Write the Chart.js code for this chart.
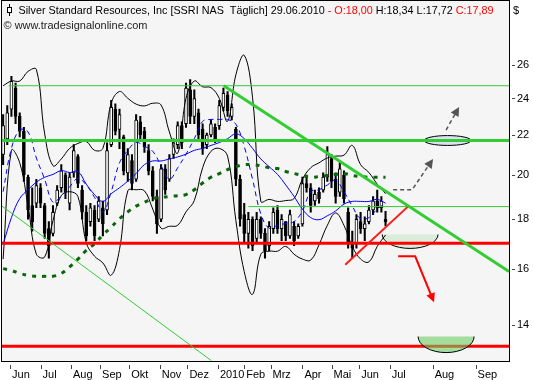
<!DOCTYPE html>
<html><head><meta charset="utf-8">
<script src="https://cdn.jsdelivr.net/npm/chart.js@4"></script>
<style>html,body{margin:0;padding:0;background:#fff;}canvas{display:block;}</style>
</head><body>
<canvas id="c" width="533" height="380"></canvas>
<script>
// ---------- DATA (trading-day index; future part in calendar days) ----------
const candleDay = [0,3,6,9,12,15,18,21,24,27,30,33,36,39,42,45,48,51,54,57,60,63,66,69,72,75,78,81,84,87,90,93,96,99,102,105,108,111,114,117,120,123,126,129,132,135,138,141,144,147,150,153,156,159,162,165,168,171,174,177,180,183,186,189,192,195,198,201,204,207,210,213,216,219,222,225,228,231,234,237,240,243,246,249,252,255,258,261,264,267,270,273,276];
const openP = [21.0,21.8,23.4,24.6,23.0,22.2,19.9,18.6,18.7,19.4,
18.6,17.6,17.4,18.7,19.4,20.0,18.7,20.1,20.9,19.3,
18.3,17.9,18.4,18.0,18.5,18.4,21.5,23.4,22.3,21.9,
20.1,20.7,19.8,22.7,22.2,21.2,20.2,19.0,18.0,20.3,
19.8,21.0,21.5,22.5,22.6,24.5,23.0,23.2,22.3,21.5,
22.0,22.4,22.5,23.5,24.2,23.0,22.3,19.8,18.2,17.4,
18.0,17.2,18.0,17.4,16.9,17.6,18.4,17.6,17.9,17.3,
17.7,17.3,17.8,19.6,19.4,18.8,19.2,19.3,19.9,20.8,
19.8,19.2,20.0,18.3,17.0,17.0,17.9,17.6,17.9,18.4,
18.8,18.5,18.00];
const highP = [23.1,23.6,25.3,24.9,23.2,22.4,20.0,19.4,19.8,19.6,
18.7,17.9,18.6,19.5,20.5,20.1,20.1,21.5,21.0,19.5,
18.6,18.7,18.6,19.0,18.8,21.6,23.9,23.7,23.4,22.0,
21.3,21.0,23.1,23.0,22.4,21.5,20.4,19.3,20.5,20.5,
21.0,21.8,22.7,22.7,24.9,25.1,24.5,23.4,22.6,22.1,
22.8,22.6,23.9,24.6,24.4,23.7,22.4,20.0,18.7,18.3,
18.1,18.3,18.1,17.6,17.9,18.5,18.6,18.2,17.9,18.4,
17.9,17.8,19.9,20.0,19.6,19.3,19.4,20.1,21.4,21.0,
20.1,20.6,20.2,18.5,17.5,18.2,18.3,18.1,18.6,19.0,
19.3,19.0,18.34];
const lowP = [20.5,21.5,23.0,22.6,21.9,19.7,18.0,17.5,18.5,18.5,
17.2,16.4,17.3,18.6,19.2,18.9,18.4,19.9,19.4,18.0,
17.1,17.7,17.1,17.9,17.3,18.2,21.4,22.0,21.3,20.0,
19.7,19.3,19.7,21.8,21.1,20.0,18.8,17.4,17.9,19.1,
19.7,20.8,21.3,21.3,22.4,22.6,22.6,21.7,21.0,21.3,
21.9,21.6,22.3,23.3,23.0,22.8,19.5,17.7,17.0,16.8,
16.7,17.0,17.2,16.4,16.7,17.4,17.4,17.1,17.1,17.2,
16.9,17.2,17.7,19.2,18.3,18.6,18.7,19.2,19.7,19.4,
18.7,19.0,18.7,16.8,16.4,16.8,17.4,17.1,17.8,18.2,
18.3,18.3,17.72];
const closeP = [22.5,23.2,25.0,23.0,22.2,20.0,18.4,17.9,19.5,18.7,
17.4,16.9,18.3,19.3,20.2,19.2,19.9,21.2,19.6,18.3,
17.3,18.5,17.3,18.8,17.8,21.2,23.5,22.2,23.1,20.2,
21.0,19.6,22.8,22.0,21.4,20.2,19.0,17.8,20.3,19.3,
20.8,21.6,22.5,21.6,24.6,23.0,24.0,22.0,21.3,22.0,
22.6,21.8,23.6,24.3,23.3,23.5,19.8,18.0,17.4,18.0,
16.9,18.0,17.4,16.7,17.7,18.3,17.6,18.0,17.3,18.2,
17.1,17.7,19.6,19.4,18.6,19.1,18.9,19.9,21.0,19.7,
19.0,20.3,18.9,17.0,16.8,18.0,17.6,17.8,18.4,18.8,
18.5,18.8,17.89];

const lineDay = [0,6,12,18,24,30,36,42,48,54,60,66,72,78,84,90,96,102,108,114,120,126,132,138,144,150,156,162,168,174,180,186,192,198,204,210,216,222,228,234,240,246,252,258,264,270,276];
const bollUpper = [24.74,25.02,25.02,25.60,25.72,22.06,20.45,20.78,21.31,21.56,
21.66,21.21,21.31,23.73,24.40,24.01,23.68,23.58,23.73,23.63,
22.16,21.07,24.01,25.02,24.68,24.63,24.01,22.73,25.40,26.60,
24.07,18.78,18.87,18.78,18.82,18.91,19.80,20.35,20.59,20.83,
20.92,20.97,21.46,20.50,20.12,19.57,19.13];
const bollLower = [16.37,21.21,20.59,18.57,16.56,16.45,17.94,19.04,19.22,19.00,
17.02,16.48,16.22,15.75,16.75,19.26,19.31,19.26,18.44,17.62,
17.70,17.74,18.32,18.82,20.35,21.16,21.31,20.92,17.94,15.89,
15.05,16.56,16.68,16.68,16.87,16.56,16.37,16.33,16.94,17.74,
18.27,17.74,16.87,16.37,16.26,16.87,17.34];
const maBlue = [16.94,18.07,18.91,19.31,19.66,19.89,20.03,20.21,20.12,20.17,
19.57,19.09,18.78,19.13,19.40,19.71,20.07,20.50,20.68,20.68,
20.78,20.88,21.02,21.21,21.31,21.46,21.61,21.81,22.06,21.81,
21.31,20.78,20.40,20.03,19.53,19.00,18.44,18.07,17.98,18.15,
18.36,18.66,18.78,18.78,18.78,18.87,18.70];
const maBlueDash = [19.22,21.31,22.26,22.16,20.83,19.80,18.74,19.04,19.44,19.84,
19.53,18.96,18.32,19.22,20.59,21.21,21.61,21.41,21.16,20.45,
19.80,20.35,21.02,21.81,22.73,22.83,22.83,22.83,22.57,21.41,
19.80,18.23,17.62,17.74,17.82,17.90,18.36,19.22,19.31,19.53,
19.75,19.22,18.57,18.02,18.07,18.44,18.70];
const maGreen = [16.00,15.93,15.82,15.75,15.71,15.71,15.71,15.82,16.07,16.37,
16.71,16.98,17.34,17.66,18.02,18.32,18.57,18.74,18.91,18.96,
19.00,19.04,19.09,19.31,19.62,19.89,20.07,20.26,20.40,20.50,
20.50,20.45,20.35,20.31,20.17,20.07,19.98,19.89,19.93,19.98,
20.03,20.07,19.98,19.93,19.89,19.89,19.89];

const monthTickDay = [5,27,49,70,91,113,133,155,174,193,216,237,257,279,310,341];
const monthLabels = ['Jun','Jul','Aug','Sep','Okt','Nov','Dez','2010','Feb','Mrz','Apr','Mai','Jun','Jul','Aug','Sep'];
const priceTicks = [14,16,18,20,22,24,26];

// drawn annotations (in day index / price)
const levelValue = [24.74, 21.72, 18.55, 17.00, 13.30];
const levelFromDay = [4, -0.8, 177, -0.8, -0.8];
const trendStartDay = [159.2, -0.8, 246.9];
const trendStartVal = [24.74, 18.57, 16.15];
const trendEndDay = [365.1, 150.3, 292.5];
const trendEndVal = [15.89, 12.85, 18.57];
const ovalDay = [303.9, 337.7], ovalVal = [21.97, 21.46];
const bowl1Day = [273.6, 313.9], bowl1Val = [17.36, 16.79];
const bowl2Day = [299.5, 339.9], bowl2Val = [13.61, 13.10];
const arrowA_Day = [319.7, 329.1], arrowA_Val = [22.26, 23.52];
const arrowB_Day = [281.5, 295.2, 310.3], arrowB_Val = [19.31, 19.31, 20.78];
const arrowC_Day = [285.1, 297.4, 311.0], arrowC_Val = [16.48, 16.48, 14.77];

const X_MIN = -0.8, X_MAX = 365.1, Y_MIN = 12.84, Y_MAX = 29.31;

// ---------- datasets ----------
const last = candleDay.length - 1;
const wick = {type:'bar', data: candleDay.map((d,i)=>({x:d, y:[lowP[i], highP[i]]})),
  backgroundColor:'#000', borderWidth:0, barThickness:1.4, grouped:false, order:30};
const body = {type:'bar', data: candleDay.map((d,i)=>({x:d, y:[openP[i], closeP[i]]})),
  backgroundColor: candleDay.map((d,i)=> closeP[i] >= openP[i] ? '#ffffff' : '#000000'),
  borderColor:'#000', borderWidth:1, borderSkipped:false, barThickness:3, grouped:false, order:29};
function curve(vals, color, width, dash, order){
  return {type:'line', data: lineDay.map((d,i)=>({x:d, y:vals[i]})), borderColor:color, borderWidth:width,
    borderDash:dash, pointRadius:0, tension:0.4, fill:false, order};
}
function seg(pts, color, width, order){
  return {type:'line', data: pts, borderColor:color, borderWidth:width, pointRadius:0, tension:0, fill:false, order};
}
const levelColor = ['#32cd32','#32cd32','#32cd32','#ff0000','#ff0000'];
const levelWidth = [1,3,1,3,3];
const trendColor = ['#32cd32','#32cd32','#ff1a1a'];
const trendWidth = [3,1,2];

const datasets = [wick, body,
  curve(bollUpper,'#000',1,[],20), curve(bollLower,'#000',1,[],20),
  curve(maGreen,'#0b650b',3,[4,6],19),
  curve(maBlue,'#0000ff',1,[],18), curve(maBlueDash,'#0000ff',1,[5,4],17)];
levelValue.forEach((v,i)=> datasets.push(seg([{x:levelFromDay[i],y:v},{x:X_MAX,y:v}], levelColor[i], levelWidth[i], 5)));
trendStartDay.forEach((d,i)=> datasets.push(seg([{x:d,y:trendStartVal[i]},{x:trendEndDay[i],y:trendEndVal[i]}], trendColor[i], trendWidth[i], 4)));

// ---------- drawing helpers ----------
function halfOval(ctx, x0, x1, yTop, yBot, fill){
  const cx=(x0+x1)/2, rx=(x1-x0)/2, ry=yBot-yTop;
  ctx.beginPath(); ctx.ellipse(cx, yTop, rx, ry, 0, 0, Math.PI); ctx.closePath();
  ctx.fillStyle=fill; ctx.fill();
  ctx.beginPath(); ctx.ellipse(cx, yTop, rx, ry, 0, 0, Math.PI);
  ctx.strokeStyle='#000'; ctx.lineWidth=1; ctx.stroke();
}
function arrow(ctx, pts, color, width, dash){
  ctx.save(); ctx.strokeStyle=color; ctx.lineWidth=width; ctx.setLineDash(dash);
  const n=pts.length, [x1,y1]=pts[n-2], [x2,y2]=pts[n-1];
  const a=Math.atan2(y2-y1,x2-x1), L=9, W=4.5;
  ctx.beginPath();
  pts.forEach((p,i)=>{ const q = (i===n-1) ? [x2-L*0.8*Math.cos(a), y2-L*0.8*Math.sin(a)] : p;
    i ? ctx.lineTo(q[0],q[1]) : ctx.moveTo(q[0],q[1]); });
  ctx.stroke(); ctx.setLineDash([]);
  ctx.beginPath(); ctx.moveTo(x2,y2);
  ctx.lineTo(x2-L*Math.cos(a)+W*Math.sin(a), y2-L*Math.sin(a)-W*Math.cos(a));
  ctx.lineTo(x2-L*Math.cos(a)-W*Math.sin(a), y2-L*Math.sin(a)+W*Math.cos(a));
  ctx.closePath(); ctx.fillStyle=color; ctx.fill(); ctx.restore();
}
const fmt = v => v.toFixed(2).replace('.', ',');

const deco = {
  id:'deco',
  beforeDraw(chart){
    const {ctx, chartArea:a} = chart;
    ctx.save();
    ctx.fillStyle='#fff'; ctx.fillRect(0,0,chart.width,chart.height);
    ctx.fillStyle='#f5f5f5'; ctx.fillRect(a.left, 0, a.right-a.left, a.bottom);
    ctx.restore();
  },
  beforeDatasetsDraw(chart){
    const {ctx} = chart, X=chart.scales.x, Y=chart.scales.y;
    ctx.save();
    const ox0=X.getPixelForValue(ovalDay[0]), ox1=X.getPixelForValue(ovalDay[1]);
    const oy0=Y.getPixelForValue(ovalVal[0]), oy1=Y.getPixelForValue(ovalVal[1]);
    ctx.beginPath(); ctx.ellipse((ox0+ox1)/2,(oy0+oy1)/2,(ox1-ox0)/2,(oy1-oy0)/2,0,0,Math.PI*2);
    ctx.fillStyle='#dde0f2'; ctx.fill(); ctx.strokeStyle='#000'; ctx.lineWidth=1; ctx.stroke();
    halfOval(ctx, X.getPixelForValue(bowl1Day[0]), X.getPixelForValue(bowl1Day[1]),
      Y.getPixelForValue(bowl1Val[0]), Y.getPixelForValue(bowl1Val[1]), 'rgba(200,232,200,0.6)');
    ctx.restore();
  },
  afterDatasetsDraw(chart){
    const {ctx, chartArea:a} = chart, X=chart.scales.x, Y=chart.scales.y;
    ctx.save();
    halfOval(ctx, X.getPixelForValue(bowl2Day[0]), X.getPixelForValue(bowl2Day[1]),
      Y.getPixelForValue(bowl2Val[0]), Y.getPixelForValue(bowl2Val[1]), 'rgba(110,205,100,0.6)');
    const P=(ds,vs)=>ds.map((d,i)=>[X.getPixelForValue(d), Y.getPixelForValue(vs[i])]);
    arrow(ctx, P(arrowA_Day, arrowA_Val), '#555', 1.5, [4,3]);
    arrow(ctx, P(arrowB_Day, arrowB_Val), '#555', 1.5, [4,3]);
    arrow(ctx, P(arrowC_Day, arrowC_Val), '#ff0000', 2, []);
    // frame
    ctx.strokeStyle='#000'; ctx.lineWidth=1;
    ctx.strokeRect(a.left-0.5, 0.5, a.right-a.left+1, a.bottom);
    // tick marks
    ctx.strokeStyle='#444';
    priceTicks.forEach(v=>{ const y=Math.round(Y.getPixelForValue(v))+0.5;
      ctx.beginPath(); ctx.moveTo(a.right+3, y); ctx.lineTo(a.right+6, y); ctx.stroke(); });
    monthTickDay.forEach(d=>{ const x=Math.round(X.getPixelForValue(d))+0.5;
      ctx.beginPath(); ctx.moveTo(x, a.bottom+4); ctx.lineTo(x, a.bottom+8); ctx.stroke(); });
    // header
    ctx.fillStyle='#000'; ctx.strokeStyle='#000';
    ctx.beginPath(); ctx.moveTo(9.5,4); ctx.lineTo(9.5,16); ctx.stroke();
    ctx.fillStyle='#fff'; ctx.fillRect(7.5,7.5,4,5); ctx.strokeRect(7.5,7.5,4,5);
    ctx.font='11px "Liberation Sans", Arial, sans-serif';
    ctx.textBaseline='alphabetic';
    const segs = [['Silver Standard Resources, Inc [SSRI NAS  T\u00e4glich] 29.06.2010 ','#000'],
      ['- O:'+fmt(openP[last]),'#ff0000'], [' H:'+fmt(highP[last])+' L:'+fmt(lowP[last])+' ','#000'],
      ['C:'+fmt(closeP[last]),'#ff0000']];
    const full = segs.map(s=>s[0]).join('');
    const sx = 475/ctx.measureText(full).width;
    ctx.save(); ctx.translate(18.5, 14); ctx.scale(sx,1);
    let xx=0; segs.forEach(([t,c])=>{ ctx.fillStyle=c; ctx.fillText(t, xx, 0); xx+=ctx.measureText(t).width; });
    ctx.restore();
    const cr='\u00a9 www.tradesignalonline.com';
    const sc = 144/ctx.measureText(cr).width;
    ctx.save(); ctx.translate(3.5, 29); ctx.scale(sc,1); ctx.fillStyle='#222'; ctx.fillText(cr,0,0); ctx.restore();
    ctx.fillStyle='#000'; ctx.fillText('$', 513, 14);
    ctx.restore();
  }
};

new Chart(document.getElementById('c'), {
  type:'bar',
  data:{datasets},
  options:{
    responsive:false, animation:false, devicePixelRatio:1,
    layout:{padding:{left:2, top:1, right:0, bottom:0}},
    plugins:{legend:{display:false}, tooltip:{enabled:false}},
    scales:{
      x:{type:'linear', min:X_MIN, max:X_MAX, offset:false,
        afterFit:s=>{s.height=19;},
        afterBuildTicks:s=>{s.ticks=monthTickDay.map(v=>({value:v}));},
        ticks:{callback:(v,i)=>monthLabels[i], align:'start', labelOffset:2, padding:7, autoSkip:false, maxRotation:0,
          color:'#000', font:{family:'"Liberation Sans", Arial, sans-serif', size:11}},
        grid:{display:false, drawTicks:false}, border:{display:false}},
      y:{type:'logarithmic', position:'right', min:Y_MIN, max:Y_MAX,
        afterFit:s=>{s.width=24;},
        afterBuildTicks:s=>{s.ticks=priceTicks.map(v=>({value:v}));},
        ticks:{callback:v=>String(v), padding:8, color:'#000', font:{family:'"Liberation Sans", Arial, sans-serif', size:11}},
        grid:{display:false, drawTicks:false}, border:{display:false}}
    }
  },
  plugins:[deco]
});
</script>
</body></html>
